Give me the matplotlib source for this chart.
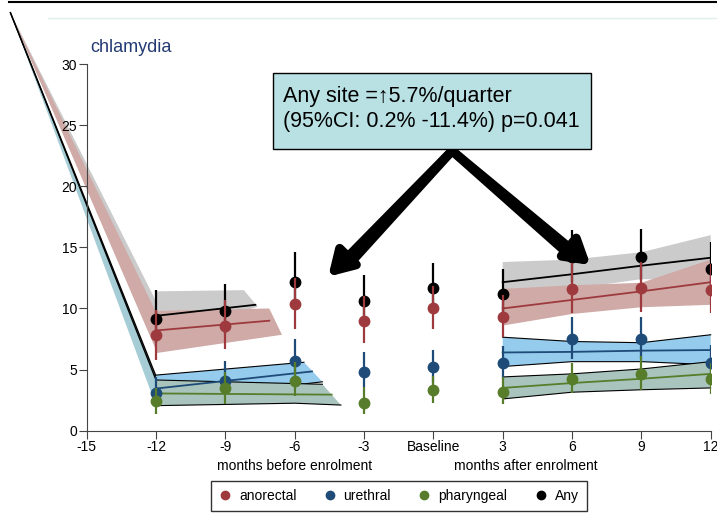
import numpy as np
import matplotlib.pyplot as plt
from matplotlib.lines import Line2D
from matplotlib.patches import Polygon, Rectangle

plt.rcParams['font.family'] = ['Liberation Sans', 'DejaVu Sans']

# x positions of the visits (0 = baseline)
months = [-12, -9, -6, -3, 0, 3, 6, 9, 12]
xtick_pos = [-15, -12, -9, -6, -3, 0, 3, 6, 9, 12]
xtick_lab = ['-15', '-12', '-9', '-6', '-3', 'Baseline', '3', '6', '9', '12']

# prevalence (%) with 95% CI
any_est = [9.1, 9.8, 12.2, 10.6, 11.7, 11.2, 14.2, 14.2, 13.2]
any_lo = [7.2, 7.9, 10.3, 8.9, 9.9, 9.5, 12.2, 12.3, 11.3]
any_hi = [11.5, 12.0, 14.6, 12.7, 13.7, 13.2, 16.4, 16.5, 15.4]

ano_est = [7.8, 8.6, 10.4, 9.0, 10.0, 9.3, 11.6, 11.7, 11.5]
ano_lo = [5.8, 6.7, 8.3, 7.2, 8.3, 7.7, 9.6, 9.7, 9.6]
ano_hi = [9.9, 10.7, 12.5, 11.0, 11.8, 11.1, 13.7, 13.8, 13.6]

ure_est = [3.1, 4.1, 5.7, 4.8, 5.2, 5.5, 7.5, 7.5, 5.5]
ure_lo = [2.0, 2.9, 4.3, 3.6, 3.9, 4.2, 5.9, 5.9, 4.3]
ure_hi = [4.4, 5.7, 7.5, 6.4, 6.6, 6.9, 9.3, 9.3, 7.0]

pha_est = [2.4, 3.5, 4.1, 2.3, 3.3, 3.2, 4.2, 4.6, 4.2]
pha_lo = [1.4, 2.2, 2.8, 1.4, 2.3, 2.2, 3.1, 3.3, 3.0]
pha_hi = [3.5, 4.8, 5.6, 3.6, 4.5, 4.4, 5.5, 6.1, 5.5]

# fitted trends before enrolment: (x, y) of line, upper edge, lower edge
pre_any = ([-12, -7.7], [9.4, 10.3])
pre_any_up = ([-12, -8.2], [11.4, 11.5])
pre_any_lo = ([-12, -7.6], [7.4, 10.15])
pre_ano = ([-12, -7.1], [8.2, 9.0])
pre_ano_up = ([-12, -7.1], [9.8, 10.0])
pre_ano_lo = ([-12, -6.55], [6.35, 7.85])
pre_ure = ([-12, -5.25], [3.45, 4.85])
pre_ure_up = ([-12, -5.6], [4.55, 5.6])
pre_ure_lo = ([-12, -4.8], [2.45, 4.0])
pre_pha = ([-12, -4.4], [3.05, 2.95])
pre_pha_up = ([-12, -4.8], [4.15, 3.8])
pre_pha_lo = ([-12, -6.0, -4.0], [2.05, 2.25, 2.1])

# fitted trends after enrolment
post_x = [3, 6, 9, 12]
post_any = [12.15, 12.8, 13.5, 14.15]
post_any_up = [13.8, 14.0, 14.6, 16.0]
post_any_lo = [10.5, 11.6, 12.4, 12.3]
post_ano = [10.0, 10.7, 11.4, 12.15]
post_ano_up = [11.6, 11.9, 12.1, 14.0]
post_ano_lo = [8.6, 9.55, 10.1, 10.3]
post_ure = [6.4, 6.45, 6.55, 6.6]
post_ure_up = [7.65, 7.3, 7.2, 7.85]
post_ure_lo = [5.25, 5.65, 5.65, 5.4]
post_pha = [3.5, 3.9, 4.25, 4.65]
post_pha_up = [4.4, 4.65, 5.05, 5.65]
post_pha_lo = [2.6, 3.15, 3.35, 3.5]

# the steep segment coming in from outside the axes
desc_top = (-18.3, 34.2)
desc_grey = [10.6, 6.9]
desc_red = [9.7, 6.6]
desc_teal = [4.45, 2.05]
desc_black = [4.45, 4.15]

c_ano, c_ure, c_pha, c_any = '#9e3a3e', '#1e4b77', '#577d2b', 'black'
f_any, f_ano, f_ure, f_pha, f_teal = '#cbcbcb', '#cfaaa7', '#95cbec', '#a9c4bd', '#a6cdd6'


def band(ax, up, lo, fc, z, edge=False):
	pts = list(zip(up[0], up[1])) + list(zip(lo[0], lo[1]))[::-1]
	ax.add_patch(Polygon(pts, closed=True, facecolor=fc, edgecolor='none', zorder=z, clip_on=False))
	if edge:
		ax.plot(up[0], up[1], color='black', lw=0.8, zorder=z + 0.05, clip_on=False)
		ax.plot(lo[0], lo[1], color='black', lw=0.8, zorder=z + 0.05, clip_on=False)


fig = plt.figure(figsize=(7.17, 5.29), dpi=100)
ax = fig.add_axes([0.1209, 0.1858, 0.8703, 0.6932])
ax.set_axisbelow(False)

# descents (kept under the tick labels)
ax.add_patch(Polygon([desc_top, (-12, desc_grey[0]), (-12, desc_grey[1])], facecolor=f_any, edgecolor='none', zorder=2, clip_on=False))
ax.add_patch(Polygon([desc_top, (-12, desc_red[0]), (-12, desc_red[1])], facecolor=f_ano, edgecolor='none', zorder=2.01, clip_on=False))
ax.add_patch(Polygon([desc_top, (-12, desc_teal[0]), (-12, desc_teal[1])], facecolor=f_teal, edgecolor='none', zorder=2.02, clip_on=False))
for yb in desc_black:
	ax.plot([desc_top[0], -12], [desc_top[1], yb], color='black', lw=1.0, zorder=2.1, clip_on=False)

# bands before
band(ax, pre_any_up, pre_any_lo, f_any, 3.1)
band(ax, pre_ano_up, pre_ano_lo, f_ano, 3.2)
band(ax, pre_ure_up, pre_ure_lo, f_ure, 3.3, edge=True)
band(ax, pre_pha_up, pre_pha_lo, f_pha, 3.4, edge=True)

# bands after
band(ax, (post_x, post_any_up), (post_x, post_any_lo), f_any, 3.1)
band(ax, (post_x, post_ano_up), (post_x, post_ano_lo), f_ano, 3.2)
band(ax, (post_x, post_ure_up), (post_x, post_ure_lo), f_ure, 3.3, edge=True)
band(ax, (post_x, post_pha_up), (post_x, post_pha_lo), f_pha, 3.4, edge=True)

# fitted lines
for (lx, ly), c in [(pre_any, c_any), (pre_ano, c_ano), (pre_ure, c_ure), (pre_pha, c_pha)]:
	ax.plot(lx, ly, color=c, lw=1.3, zorder=4)
for ly, c in [(post_any, c_any), (post_ano, c_ano), (post_ure, c_ure), (post_pha, c_pha)]:
	ax.plot(post_x, ly, color=c, lw=1.3, zorder=4)

# points with CI bars
z = 5
for est, lo, hi, c in [(any_est, any_lo, any_hi, c_any), (ano_est, ano_lo, ano_hi, c_ano),
		(ure_est, ure_lo, ure_hi, c_ure), (pha_est, pha_lo, pha_hi, c_pha)]:
	ax.vlines(months, lo, hi, color=c, lw=1.6, zorder=z)
	ax.plot(months, est, 'o', color=c, ms=7.5, zorder=z + 0.5)
	z += 1

ax.set_xlim(-15, 12)
ax.set_ylim(0, 30)
ax.set_xticks(xtick_pos)
ax.set_xticklabels(xtick_lab)
ax.set_yticks(range(0, 31, 5))
for s in ['top', 'right']:
	ax.spines[s].set_visible(False)
for s in ['left', 'bottom']:
	ax.spines[s].set_color('#444444')
ax.tick_params(axis='both', labelsize=10, length=5.5, color='#444444', pad=1.5)

ax.text(-6, -0.095, 'months before enrolment', transform=ax.get_xaxis_transform(), ha='center', va='center', fontsize=10)
ax.text(4, -0.095, 'months after enrolment', transform=ax.get_xaxis_transform(), ha='center', va='center', fontsize=10)

fig.text(90 / 717, 1 - 48 / 529, 'chlamydia', fontsize=13, color='#243a73', va='center', ha='left')

# annotation box with arrows
fig.add_artist(Rectangle((273 / 717, 1 - 149 / 529), 318 / 717, 76 / 529, transform=fig.transFigure,
	facecolor='#b9e1e4', edgecolor='black', lw=1))
fig.text(283 / 717, 1 - 101.7 / 529, 'Any site =\u21915.7%/quarter', fontsize=15.5, va='baseline', ha='left')
fig.text(283 / 717, 1 - 126.7 / 529, '(95%CI: 0.2% -11.4%) p=0.041', fontsize=15.5, va='baseline', ha='left')

apex = (0.81, 22.9)
tip_l = (-4.55, 12.6)
tip_r = (6.8, 13.55)
ax.plot([tip_l[0] + 0.9, apex[0], tip_r[0] - 0.9], [tip_l[1] + 1.0, apex[1], tip_r[1] + 0.8],
	color='black', lw=6.5, solid_joinstyle='miter', zorder=10, clip_on=False)
for tip in [tip_l, tip_r]:
	ax.annotate('', xy=tip, xytext=apex,
		arrowprops=dict(arrowstyle='-|>,head_length=1.0,head_width=0.6', lw=6.5, color='black',
			shrinkA=0, shrinkB=0, mutation_scale=14), zorder=10)

# legend
handles = [Line2D([], [], marker='o', ls='', color=c, ms=6) for c in [c_ano, c_ure, c_pha, c_any]]
leg = fig.legend(handles, ['anorectal', 'urethral', 'pharyngeal', 'Any'], loc='center',
	bbox_to_anchor=(399 / 717, 1 - 496 / 529), ncol=4, fontsize=10, frameon=True, fancybox=False,
	handlelength=0.8, handletextpad=0.6, columnspacing=2.0, borderpad=0.6)
leg.get_frame().set_edgecolor('black')
leg.get_frame().set_linewidth(1)

# slide frame lines at the top
fig.add_artist(Line2D([9 / 717, 1], [1 - 2 / 529] * 2, color='black', lw=1.5, transform=fig.transFigure))
fig.add_artist(Line2D([48 / 717, 1], [1 - 18 / 529] * 2, color='#e2efef', lw=1, transform=fig.transFigure))

fig.savefig('out.png', dpi=100)
